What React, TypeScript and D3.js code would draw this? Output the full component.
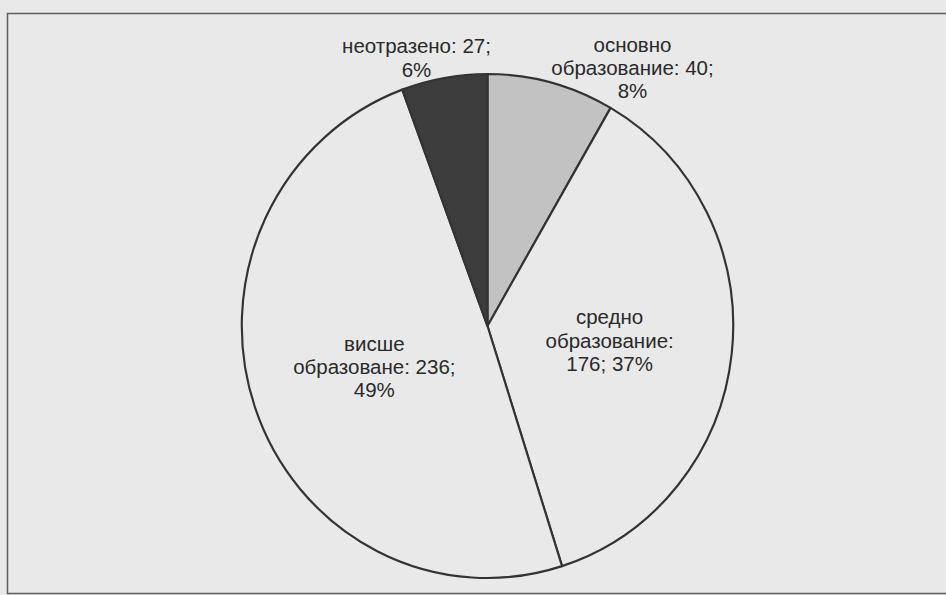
import React from "react";
import * as d3 from "d3";

// education levels, clockwise from 12 o'clock
const categories = ["основно образование", "средно образование", "висше образоване", "неотразено"];
const values = [40, 176, 236, 27];
const fills = ["#c2c2c2", "#e9e9e9", "#e9e9e9", "#3c3c3c"];

const W = 946;
const H = 595;

const App = () => {
  const svgRef = React.useRef<SVGSVGElement>(null);

  React.useEffect(() => {
    const cx = 487.5;
    const cy = 326;
    const r = 252;
    const sx = 0.975; // the scanned pie is a touch narrower than tall
    const total = d3.sum(values);

    const svgEl = d3.select(svgRef.current);
    svgEl.selectAll("*").remove();

    svgEl.append("rect").attr("width", W).attr("height", H).attr("fill", "#e9e9e9");
    // chart area frame (open on the right like the scan)
    svgEl.append("path")
      .attr("d", `M${W + 2},13.5 H7.5 V593.5 H${W + 2}`)
      .attr("fill", "none")
      .attr("stroke", "#5f5f5f")
      .attr("stroke-width", 1.5);

    const pie = d3.pie<number>().sort(null).value((d) => d);
    const arcs = pie(values);
    const arc = d3.arc<d3.PieArcDatum<number>>().innerRadius(0).outerRadius(r);

    const g = svgEl.append("g").attr("transform", `translate(${cx},${cy})`);
    g.append("g")
      .attr("transform", `scale(${sx},1)`)
      .selectAll("path.slice")
      .data(arcs)
      .enter()
      .append("path")
      .attr("class", "slice")
      .attr("d", arc)
      .attr("fill", (_, i) => fills[i])
      .attr("stroke", "#333")
      .attr("stroke-width", 2.2)
      .attr("stroke-linejoin", "round");

    // how each data label wraps, the way the original chart broke them
    const labelLines = (i: number) => {
      const v = values[i];
      const p = Math.round((v / total) * 100) + "%";
      const words = categories[i].split(" ");
      if (i === 0) return [words[0], `${words[1]}: ${v};`, p];
      if (i === 1) return [words[0], `${words[1]}:`, `${v}; ${p}`];
      if (i === 2) return [words[0], `${words[1]}: ${v};`, p];
      return [`${categories[i]}: ${v};`, p];
    };

    // inside labels sit at half radius, the two thin slices are pushed outside
    const inner = d3.arc<d3.PieArcDatum<number>>().innerRadius(r * 0.5).outerRadius(r * 0.5);
    const labelPos = (d: d3.PieArcDatum<number>, i: number): [number, number] => {
      if (i === 0) return [145, -257];
      if (i === 3) return [-71, -267];
      const [x, y] = inner.centroid(d);
      return i === 1 ? [x * sx, y + 2] : [x * sx + 3, y + 1];
    };

    const lh = 23.3;
    arcs.forEach((d, i) => {
      const lines = labelLines(i);
      const [x, y] = labelPos(d, i);
      const t = g.append("text")
        .attr("text-anchor", "middle")
        .attr("font-family", "'Liberation Sans', Arial, sans-serif")
        .attr("font-size", 20.5)
        .attr("fill", "#2a2a2a");
      lines.forEach((line, k) => {
        t.append("tspan")
          .attr("x", x)
          .attr("y", y + (k - (lines.length - 1) / 2) * lh + 6)
          .text(line);
      });
    });
  }, []);

  return (
    <svg
      ref={svgRef}
      width={W}
      height={H}
      style={{ position: "absolute", left: 0, top: 0 }}
    />
  );
};

export default App;
